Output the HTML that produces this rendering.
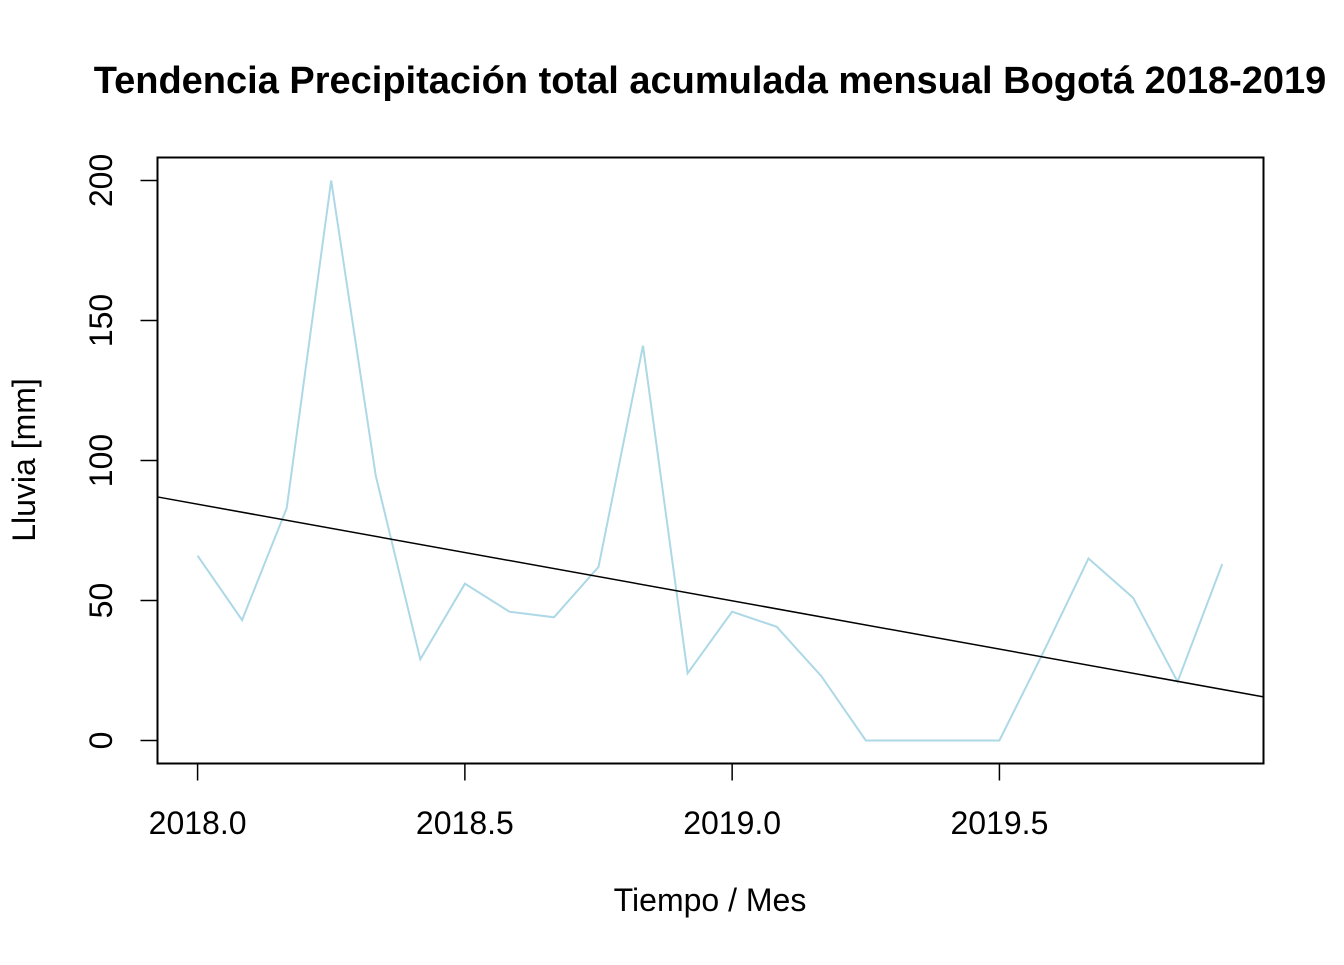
<!DOCTYPE html>
<html><head><meta charset="utf-8"><style>
html,body{margin:0;padding:0;background:#fff;}
svg text{font-family:"Liberation Sans",Arial,sans-serif;}
</style></head><body>
<svg id="chart" width="1344" height="960" xmlns="http://www.w3.org/2000/svg">
<text x="710" y="93" text-anchor="middle" font-size="38" font-weight="bold">Tendencia Precipitación total acumulada mensual Bogotá 2018-2019</text>
<rect x="157.5" y="157.5" width="1106" height="606" fill="none" stroke="#000" stroke-width="2"/>
<g id="xaxis"></g>
<g id="yaxis"></g>
<g id="marks"></g>
<text x="710" y="911" text-anchor="middle" font-size="32">Tiempo / Mes</text>
<text transform="translate(35,460) rotate(-90)" text-anchor="middle" font-size="32">Lluvia [mm]</text>
</svg>
<script>
const months = [2018.0,2018.0833,2018.1667,2018.25,2018.3333,2018.4167,2018.5,2018.5833,2018.6667,2018.75,2018.8333,2018.9167,2019.0,2019.0833,2019.1667,2019.25,2019.3333,2019.4167,2019.5,2019.5833,2019.6667,2019.75,2019.8333,2019.9167];
const rain = [66,43,83,200,94.5,29,56,46,44,62,141,24,46,40.6,23,0,0,0,0,32,65,51,21,63];
const xTicks = [2018.0,2018.5,2019.0,2019.5];
const xTickLabels = ["2018.0","2018.5","2019.0","2019.5"];
const yTicks = [0,50,100,150,200];
const yTickLabels = ["0","50","100","150","200"];
const trendIntercept = [84.4];
const trendSlope = [-34.5];

const NS="http://www.w3.org/2000/svg";
const X0=157.5,X1=1263.5,Y0=157.5,Y1=763.5;
const xMin=2017.925,xMax=2019.994,yMin=-8.2,yMax=208.2;
const sx=v=>X0+(v-xMin)/(xMax-xMin)*(X1-X0);
const sy=v=>Y1-(v-yMin)/(yMax-yMin)*(Y1-Y0);
function mk(tag,attrs,parent,txt){const e=document.createElementNS(NS,tag);for(const k in attrs)e.setAttribute(k,attrs[k]);if(txt!==undefined)e.textContent=txt;parent.appendChild(e);return e;}
const xa=document.getElementById('xaxis'),ya=document.getElementById('yaxis'),mg=document.getElementById('marks');
xTicks.forEach((t,i)=>{
 const l=mk('line',{x1:sx(t),x2:sx(t),y1:Y1,y2:Y1+17,stroke:'#000','stroke-width':1.5},xa);
 
 
 const tx=mk('text',{x:sx(t),y:834,'text-anchor':'middle','font-size':32},xa,xTickLabels[i]);
 
 
});
yTicks.forEach((t,i)=>{
 const l=mk('line',{x1:X0-17,x2:X0,y1:sy(t),y2:sy(t),stroke:'#000','stroke-width':1.5},ya);
 
 
 const tx=mk('text',{transform:`translate(112,${sy(t)}) rotate(-90)`,'text-anchor':'middle','font-size':32},ya,yTickLabels[i]);
 
 
});
const pts=months.map((m,i)=>sx(m).toFixed(1)+','+sy(rain[i]).toFixed(1)).join(' ');
const pl=mk('polyline',{points:pts,fill:'none',stroke:'#add8e6','stroke-width':2},mg);


const f=v=>trendIntercept[0]+trendSlope[0]*(v-2018);
const tl=mk('line',{x1:X0,y1:sy(f(xMin)),x2:X1,y2:sy(f(xMax)),stroke:'#000','stroke-width':1.5},mg);


</script>
</body></html>
